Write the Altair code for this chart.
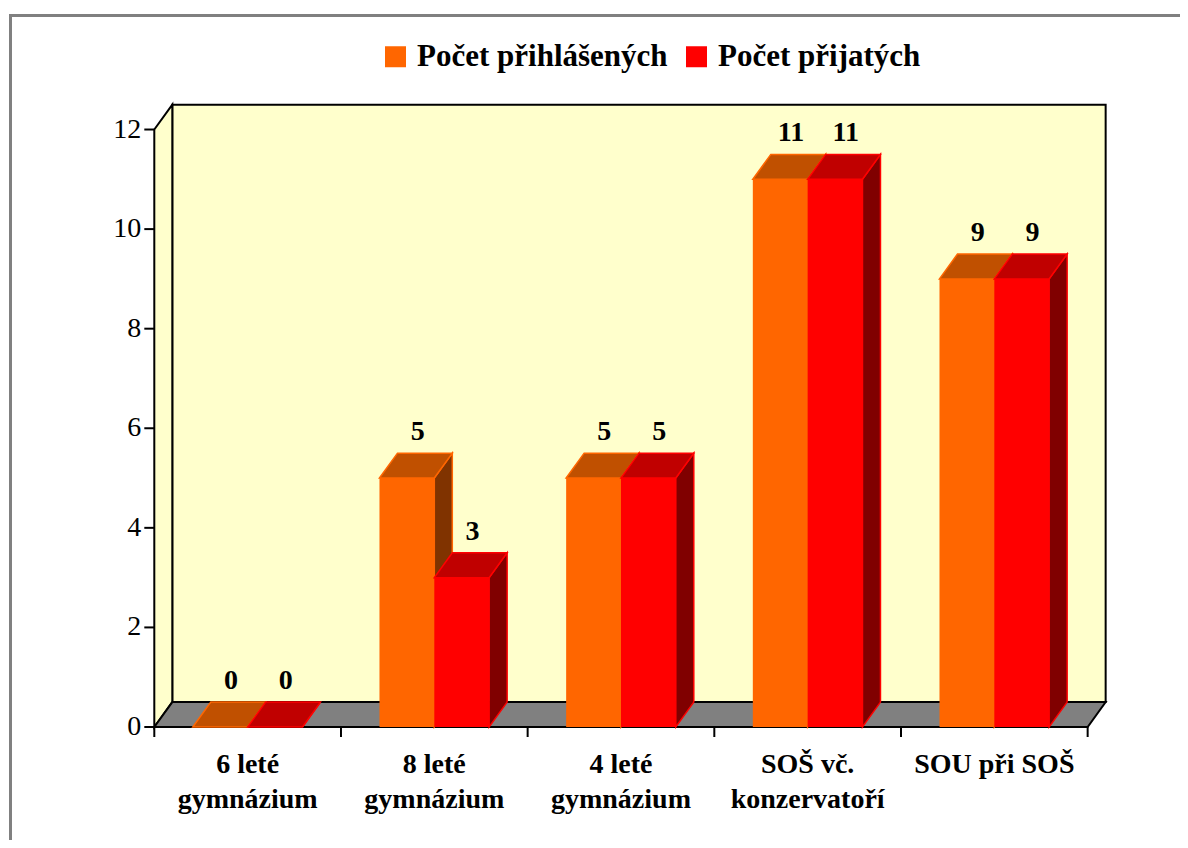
import altair as alt
import pandas as pd

# ---------------- data ----------------
categories = ["6 leté\ngymnázium", "8 leté\ngymnázium", "4 leté\ngymnázium",
              "SOŠ vč.\nkonzervatoří", "SOU při SOŠ"]
series_names = ["Počet přihlášených", "Počet přijatých"]
applied = [0, 5, 5, 11, 9]
accepted = [0, 3, 5, 11, 9]
y_ticks = [0, 2, 4, 6, 8, 10, 12]

# ---------------- style ----------------
front_colors = ["#FF6600", "#FF0000"]
top_colors = ["#C05000", "#C00000"]
side_colors = ["#803300", "#800000"]
WALL = "#FFFFCC"
FLOOR = "#808080"
SERIF = "Liberation Serif"

N = len(categories)
UX = 186.67          # px per category
UY = 49.79           # px per value unit
DX = 18 / UX         # depth (x) in category units
DY = 0.5             # depth (y) in value units
GAP = 0.2063
BW = 0.2937
YMAX = 12 + DY

# page geometry of the front plane origin
ORIG_X, ORIG_Y = 154.3, 727.0
W_VIEW = (N + DX) * UX
H_VIEW = YMAX * UY
VIEW_LEFT = ORIG_X
VIEW_TOP = ORIG_Y - H_VIEW
PAD_L = VIEW_LEFT - 8
PAD_T = VIEW_TOP - 8
PAD_R = 1180 - (VIEW_LEFT + W_VIEW)
PAD_B = 840 - ORIG_Y

x_scale = alt.Scale(domain=[0, N + DX], nice=False, zero=False)
y_scale = alt.Scale(domain=[0, YMAX], nice=False, zero=False)


def X(field):
    return alt.X(field, scale=x_scale, axis=None)


def Y(field):
    return alt.Y(field, scale=y_scale, axis=None, stack=False)


# ---------------- walls ----------------
back_df = pd.DataFrame({"x": [DX], "x2": [N + DX], "y": [DY], "y2": [YMAX]})
left_df = pd.DataFrame({"x": [0, DX], "lo": [0, DY], "hi": [YMAX - DY, YMAX]})
floor_df = pd.DataFrame({"x": [0, DX, N, N + DX], "lo": [0, 0, 0, DY], "hi": [0, DY, DY, DY]})

back = alt.Chart(back_df).mark_rect(fill=WALL, stroke="black", strokeWidth=2).encode(
    x=X("x:Q"), x2="x2:Q", y=Y("y:Q"), y2="y2:Q")
left = alt.Chart(left_df).mark_area(fill=WALL, stroke="black", strokeWidth=2, orient="vertical").encode(
    x=X("x:Q"), y=Y("hi:Q"), y2="lo:Q")
floor = alt.Chart(floor_df).mark_area(fill=FLOOR, stroke="black", strokeWidth=2, orient="vertical").encode(
    x=X("x:Q"), y=Y("hi:Q"), y2="lo:Q")

# ---------------- axes (ticks + labels through the scales) ----------------
ytick_df = pd.DataFrame({"t": y_ticks})
xtick_df = pd.DataFrame({"t": list(range(N + 1))})
xlab_df = pd.DataFrame({"pos": [i + 0.5 for i in range(N)], "label": categories})

y_ticks_m = alt.Chart(ytick_df).mark_rule(color="black", strokeWidth=2).encode(
    x=alt.value(-10), x2=alt.value(0), y=Y("t:Q"))
y_labels_m = alt.Chart(ytick_df).mark_text(
    font=SERIF, fontSize=28, color="black", align="right", baseline="middle"
).encode(x=alt.value(-13), y=Y("t:Q"), text="t:Q")
x_ticks_m = alt.Chart(xtick_df).mark_rule(color="black", strokeWidth=2).encode(
    x=X("t:Q"), y=alt.value(H_VIEW), y2=alt.value(H_VIEW + 10))
x_labels_m = alt.Chart(xlab_df).mark_text(
    font=SERIF, fontSize=28, fontWeight="bold", color="black", align="center",
    baseline="top", lineBreak="\n", lineHeight=35
).encode(x=X("pos:Q"), y=alt.value(H_VIEW + 23.6), text="label:N")

# ---------------- bars ----------------
fronts, sides, tops = [], [], []
for s, vals in enumerate([applied, accepted]):
    for i, v in enumerate(vals):
        bid = f"{s}-{i}"
        x0 = i + GAP + s * BW
        x1 = x0 + BW
        fronts.append({"bar": bid, "s": s, "series": series_names[s], "x0": x0, "x1": x1,
                       "v": v, "lx": x0 + BW / 2 + DX * 0.6, "ly": v + DY})
        sides += [{"bar": bid, "s": s, "x": x1, "lo": 0, "hi": v},
                  {"bar": bid, "s": s, "x": x1 + DX, "lo": DY, "hi": v + DY}]
        tops += [{"bar": bid, "s": s, "x": x0, "lo": v, "hi": v},
                 {"bar": bid, "s": s, "x": x0 + DX, "lo": v, "hi": v + DY},
                 {"bar": bid, "s": s, "x": x1, "lo": v, "hi": v + DY},
                 {"bar": bid, "s": s, "x": x1 + DX, "lo": v + DY, "hi": v + DY}]
front_df = pd.DataFrame(fronts)
side_df = pd.DataFrame(sides)
top_df = pd.DataFrame(tops)

color_scale = alt.Scale(domain=series_names, range=front_colors)
legend = alt.Legend(orient="none", legendX=380 - VIEW_LEFT, legendY=41 - VIEW_TOP,
                    direction="horizontal",
                    title=None, symbolType="square", symbolSize=441, symbolStrokeWidth=0,
                    symbolOpacity=1, labelFont=SERIF, labelFontSize=31,
                    labelFontWeight="bold", labelColor="black", labelLimit=600,
                    labelOffset=6, columnPadding=13, padding=0)

bar_layers = []
for s in range(2):
    side = alt.Chart(side_df).transform_filter(f"datum.s == {s}").mark_area(
        fill=side_colors[s], stroke=front_colors[s], strokeWidth=1.5, orient="vertical"
    ).encode(x=X("x:Q"), y=Y("hi:Q"), y2="lo:Q", detail="bar:N")
    top = alt.Chart(top_df).transform_filter(f"datum.s == {s}").mark_area(
        fill=top_colors[s], stroke=front_colors[s], strokeWidth=1.5, orient="vertical"
    ).encode(x=X("x:Q"), y=Y("hi:Q"), y2="lo:Q", detail="bar:N")
    front = alt.Chart(front_df).transform_filter(f"datum.s == {s}").mark_rect().encode(
        x=X("x0:Q"), x2="x1:Q", y=Y("v:Q"), y2=alt.datum(0),
        color=alt.Color("series:N", scale=color_scale, legend=legend),
    )
    bar_layers += [side, top, front]

labels = alt.Chart(front_df).mark_text(
    font=SERIF, fontSize=28, fontWeight="bold", color="black",
    align="center", baseline="alphabetic", dy=-13
).encode(x=X("lx:Q"), y=Y("ly:Q"), text="v:Q")

# ---------------- frame (top and left border of the chart area) ----------------
FX = 10.5 - VIEW_LEFT
FY = 15.5 - VIEW_TOP
one = pd.DataFrame({"a": [0]})
frame_top = alt.Chart(one).mark_rule(color="#808080", strokeWidth=3).encode(
    x=alt.value(FX - 1.5), x2=alt.value(1190 - VIEW_LEFT), y=alt.value(FY))
frame_left = alt.Chart(one).mark_rule(color="#808080", strokeWidth=3).encode(
    x=alt.value(FX), y=alt.value(FY - 1.5), y2=alt.value(850 - VIEW_TOP))

chart = alt.layer(
    back, left, floor, *bar_layers, labels,
    y_ticks_m, y_labels_m, x_ticks_m, x_labels_m, frame_top, frame_left
).properties(
    width=W_VIEW, height=H_VIEW,
    autosize=alt.AutoSizeParams(type="none"),
    padding={"left": PAD_L, "top": PAD_T, "right": PAD_R, "bottom": PAD_B},
    background="white",
).configure_view(stroke=None)

chart.save("out.html", embed_options={"renderer": "svg", "actions": False})
